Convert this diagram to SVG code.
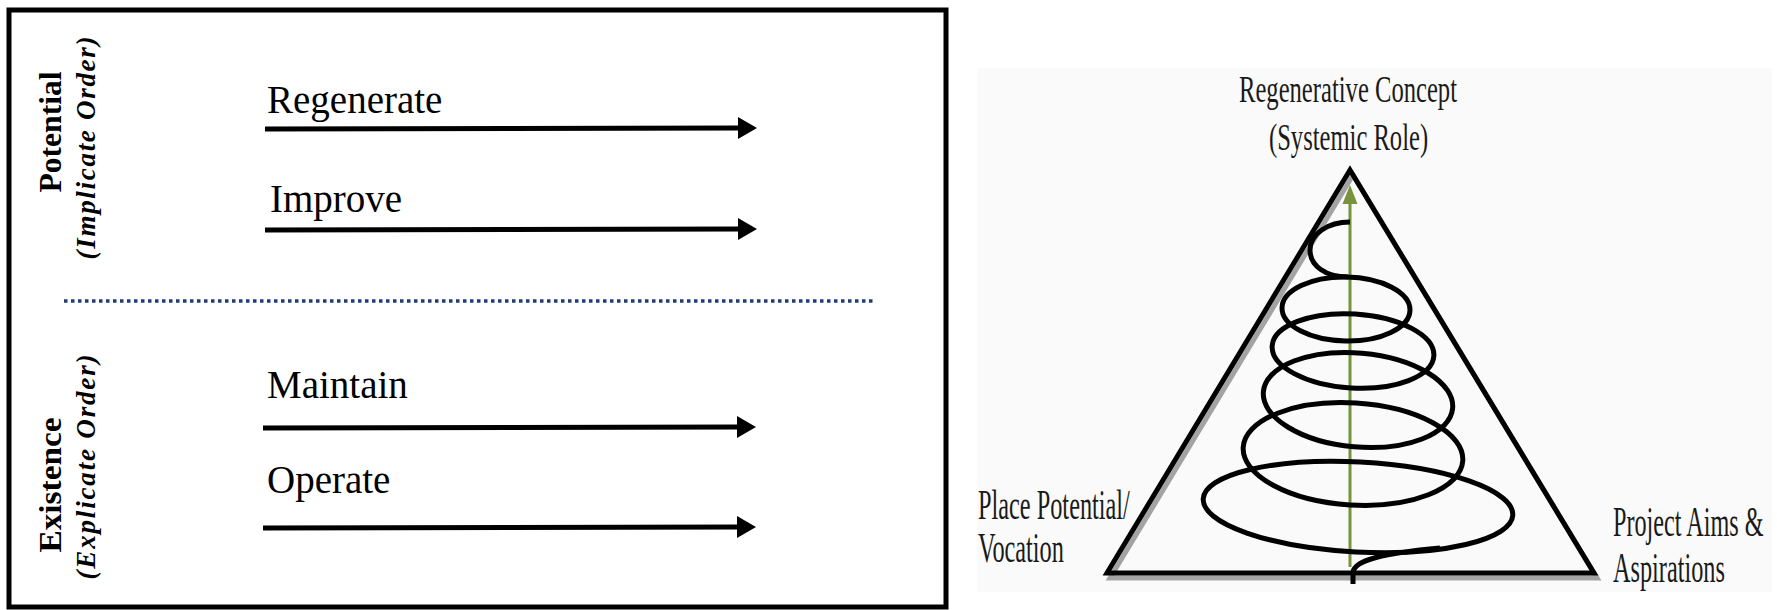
<svg xmlns="http://www.w3.org/2000/svg" width="1777" height="610" viewBox="0 0 1777 610">
  <style>
    .lbl { font-family: "Liberation Serif", "Times New Roman", serif; fill: #000; }
    .act { font-size: 39px; }
    .vb { font-size: 32px; font-weight: bold; }
    .vi { font-size: 27px; font-weight: bold; font-style: italic; }
    .rt { font-family: "Liberation Serif", "Times New Roman", serif; fill: #1a1a1a; }
    .arr { stroke: #000; stroke-width: 5; fill: none; }
    .coil { stroke: #000; stroke-width: 5; fill: none; }
  </style>
  <defs>
    <marker id="head" markerUnits="userSpaceOnUse" markerWidth="20" markerHeight="22" refX="1" refY="11" orient="auto">
      <path d="M0,0 L19,11 L0,22 Z" fill="#000"/>
    </marker>
  </defs>
  <rect width="1777" height="610" fill="#fff"/>

  <!-- Left panel -->
  <g id="left-panel">
    <rect x="9" y="10" width="937" height="597" fill="#fff" stroke="#000" stroke-width="5"/>
    <line id="divider" x1="64" y1="301" x2="873" y2="301" stroke="#1f3d7a" stroke-width="3.5" stroke-dasharray="3.5 3.5"/>
  </g>

  <g id="side-potential">
    <text class="lbl vb" transform="translate(61,132) rotate(-90)" text-anchor="middle" textLength="121" lengthAdjust="spacingAndGlyphs">Potential</text>
    <text class="lbl vi" transform="translate(95,148) rotate(-90)" text-anchor="middle" textLength="223" lengthAdjust="spacing">(Implicate Order)</text>
  </g>
  <g id="side-existence">
    <text class="lbl vb" transform="translate(61,485) rotate(-90)" text-anchor="middle" textLength="135" lengthAdjust="spacingAndGlyphs">Existence</text>
    <text class="lbl vi" transform="translate(95,467) rotate(-90)" text-anchor="middle" textLength="225" lengthAdjust="spacing">(Explicate Order)</text>
  </g>

  <g id="node-regenerate"><text class="lbl act" x="267" y="113">Regenerate</text></g>
  <g id="node-improve"><text class="lbl act" x="270" y="212">Improve</text></g>
  <g id="node-maintain"><text class="lbl act" x="267" y="398">Maintain</text></g>
  <g id="node-operate"><text class="lbl act" x="267" y="493">Operate</text></g>

  <g id="connectors">
    <line class="arr" x1="265" y1="129" x2="739" y2="128" marker-end="url(#head)"/>
    <line class="arr" x1="265" y1="230" x2="739" y2="229" marker-end="url(#head)"/>
    <line class="arr" x1="263" y1="428" x2="738" y2="427" marker-end="url(#head)"/>
    <line class="arr" x1="263" y1="528" x2="738" y2="527" marker-end="url(#head)"/>
  </g>

  <!-- Right panel -->
  <rect id="right-bg" x="977" y="68" width="795" height="524" fill="#fafafa"/>

  <g id="triangle">
    <polygon points="1353,175 1110,578 1597,578" fill="none" stroke="#a3a3a3" stroke-width="5" stroke-linejoin="miter" stroke-miterlimit="10"/>
    <polygon points="1350,170 1107,573 1594,573" fill="none" stroke="#000" stroke-width="5" stroke-linejoin="miter" stroke-miterlimit="10"/>
  </g>

  <g id="growth-arrow">
    <line x1="1350" y1="567" x2="1350" y2="200" stroke="#77933c" stroke-width="3"/>
    <polygon points="1350,185 1342.5,204 1357.5,204" fill="#77933c"/>
  </g>

  <g id="spiral">
    <path class="coil" d="M1353,584 L1353,573 C1353,560 1385,553 1440,548"/>
    <ellipse class="coil" cx="1358" cy="507" rx="155" ry="45" transform="rotate(3 1358 507)"/>
    <ellipse class="coil" cx="1353" cy="454" rx="110" ry="51" transform="rotate(3.5 1353 454)"/>
    <ellipse class="coil" cx="1358" cy="400" rx="95" ry="47" transform="rotate(5 1358 400)"/>
    <ellipse class="coil" cx="1353" cy="351" rx="81" ry="37" transform="rotate(3.5 1353 351)"/>
    <ellipse class="coil" cx="1346" cy="309" rx="64" ry="32" transform="rotate(1 1346 309)"/>
    <path class="coil" d="M1350,222 C1328,222 1310,234 1310,250 C1310,266 1326,277 1348,277"/>
  </g>

  <g id="node-concept">
    <text class="rt" transform="translate(1239,102) scale(0.648,1)" font-size="38">Regenerative Concept</text>
    <text class="rt" transform="translate(1269,150) scale(0.647,1)" font-size="38">(Systemic Role)</text>
  </g>
  <g id="node-place">
    <text class="rt" transform="translate(978,519) scale(0.579,1)" font-size="42">Place Potential/</text>
    <text class="rt" transform="translate(978,562) scale(0.578,1)" font-size="42">Vocation</text>
  </g>
  <g id="node-project">
    <text class="rt" transform="translate(1613,536) scale(0.576,1)" font-size="42">Project Aims &amp;</text>
    <text class="rt" transform="translate(1613,582) scale(0.578,1)" font-size="42">Aspirations</text>
  </g>
</svg>
